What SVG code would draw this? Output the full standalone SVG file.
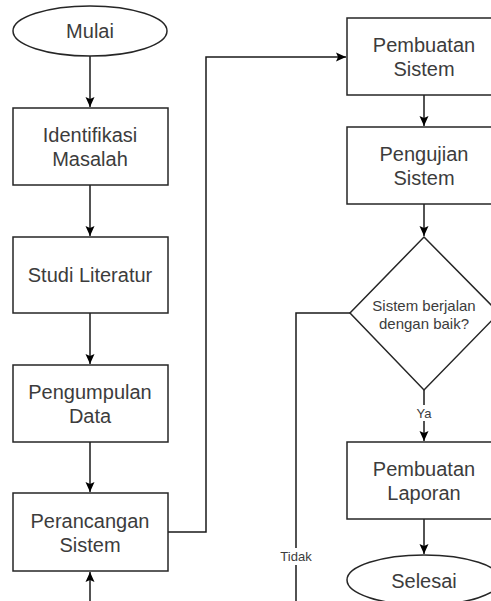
<svg xmlns="http://www.w3.org/2000/svg" width="491" height="601" viewBox="0 0 491 601">
  <style>
    .shape { fill: #ffffff; stroke: #262626; stroke-width: 1.5; }
    .edge { fill: none; stroke: #1a1a1a; stroke-width: 1.5; }
    .label { font-family: "Liberation Sans", Arial, sans-serif; font-size: 20px; fill: #3c3c3c; text-anchor: middle; }
    .small { font-family: "Liberation Sans", Arial, sans-serif; font-size: 15px; fill: #3c3c3c; text-anchor: middle; }
    .tag { font-family: "Liberation Sans", Arial, sans-serif; font-size: 13px; fill: #3c3c3c; text-anchor: middle; }
  </style>
  <defs>
    <marker id="arrow" markerUnits="userSpaceOnUse" markerWidth="12" markerHeight="12" viewBox="0 0 12 12" refX="11" refY="6" orient="auto">
      <path d="M1,1.5 L11,6 L1,10.5 L3,6 Z" fill="#000000"/>
    </marker>
  </defs>
  <rect width="491" height="601" fill="#ffffff"/>

  <g id="connectors">
    <path class="edge" d="M90,56 V107" marker-end="url(#arrow)"/>
    <path class="edge" d="M90,185 V236" marker-end="url(#arrow)"/>
    <path class="edge" d="M90,313 V364" marker-end="url(#arrow)"/>
    <path class="edge" d="M90,442 V492" marker-end="url(#arrow)"/>
    <path class="edge" d="M168,532 H206 V57 H346" marker-end="url(#arrow)"/>
    <path class="edge" d="M424,95 V126" marker-end="url(#arrow)"/>
    <path class="edge" d="M424,204 V236" marker-end="url(#arrow)"/>
    <path class="edge" d="M424,390 V441" marker-end="url(#arrow)"/>
    <path class="edge" d="M424,519 V554" marker-end="url(#arrow)"/>
    <path class="edge" d="M350,313 H296 V601"/>
    <path class="edge" d="M90,601 V572" marker-end="url(#arrow)"/>
    <rect x="410" y="405" width="28" height="16" fill="#ffffff"/>
    <text class="tag" x="424" y="418">Ya</text>
    <rect x="278" y="548" width="36" height="17" fill="#ffffff"/>
    <text class="tag" x="296" y="561">Tidak</text>
  </g>

  <g id="mulai">
    <ellipse class="shape" cx="90" cy="31" rx="77" ry="25"/>
    <text class="label" x="90" y="38">Mulai</text>
  </g>
  <g id="identifikasi-masalah">
    <rect class="shape" x="13" y="108" width="155" height="77"/>
    <text class="label" x="90" y="142">Identifikasi</text>
    <text class="label" x="90" y="166">Masalah</text>
  </g>
  <g id="studi-literatur">
    <rect class="shape" x="13" y="237" width="155" height="76"/>
    <text class="label" x="90" y="282">Studi Literatur</text>
  </g>
  <g id="pengumpulan-data">
    <rect class="shape" x="13" y="365" width="155" height="77"/>
    <text class="label" x="90" y="399">Pengumpulan</text>
    <text class="label" x="90" y="423">Data</text>
  </g>
  <g id="perancangan-sistem">
    <rect class="shape" x="13" y="493" width="155" height="78"/>
    <text class="label" x="90" y="528">Perancangan</text>
    <text class="label" x="90" y="552">Sistem</text>
  </g>
  <g id="pembuatan-sistem">
    <rect class="shape" x="347" y="18" width="154" height="77"/>
    <text class="label" x="424" y="52">Pembuatan</text>
    <text class="label" x="424" y="76">Sistem</text>
  </g>
  <g id="pengujian-sistem">
    <rect class="shape" x="347" y="127" width="154" height="77"/>
    <text class="label" x="424" y="161">Pengujian</text>
    <text class="label" x="424" y="185">Sistem</text>
  </g>
  <g id="sistem-berjalan">
    <polygon class="shape" points="424,237 499,313 424,390 350,313"/>
    <text class="small" x="424" y="311">Sistem berjalan</text>
    <text class="small" x="424" y="329">dengan baik?</text>
  </g>
  <g id="pembuatan-laporan">
    <rect class="shape" x="347" y="442" width="154" height="77"/>
    <text class="label" x="424" y="476">Pembuatan</text>
    <text class="label" x="424" y="500">Laporan</text>
  </g>
  <g id="selesai">
    <ellipse class="shape" cx="424" cy="580" rx="77" ry="25"/>
    <text class="label" x="424" y="588">Selesai</text>
  </g>
</svg>
